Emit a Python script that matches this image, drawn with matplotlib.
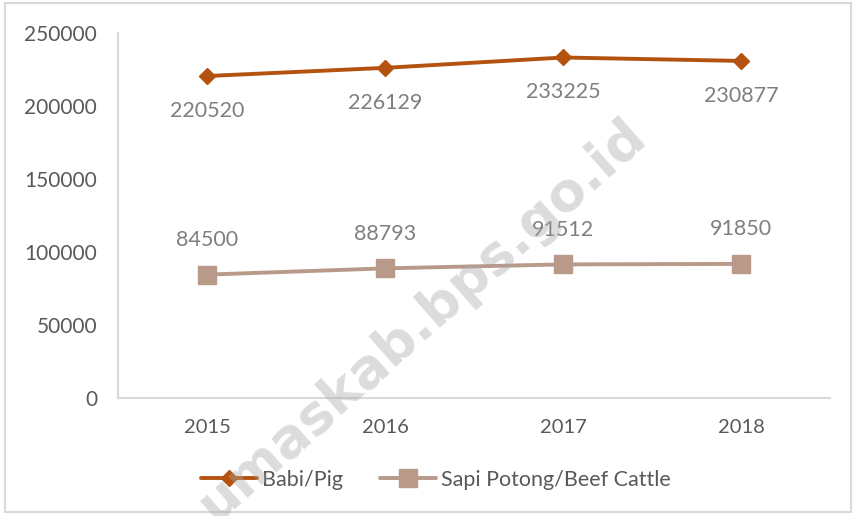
import matplotlib
matplotlib.use("Agg")
import matplotlib.pyplot as plt
from matplotlib.patches import Rectangle

# data
years = ["2015", "2016", "2017", "2018"]
pig = [220520, 226129, 233225, 230877]
cattle = [84500, 88793, 91512, 91850]
pig_label = "Babi/Pig"
cattle_label = "Sapi Potong/Beef Cattle"
y_ticks = [0, 50000, 100000, 150000, 200000, 250000]

PIG_COLOR = "#B4530F"
CATTLE_COLOR = "#B9998A"
TEXT_COLOR = "#595959"
LABEL_COLOR = "#7F7F7F"
AXIS_COLOR = "#D9D9D9"

plt.rcParams["font.family"] = ["Lato", "DejaVu Sans"]

fig = plt.figure(figsize=(8.56, 5.16), dpi=100)
ax = fig.add_axes([118 / 856, 1 - 398 / 516, (830 - 118) / 856, (398 - 33) / 516])

x = list(range(len(years)))
ax.plot(x, pig, color=PIG_COLOR, lw=2.8, marker="D", ms=8,
        solid_capstyle="round", label=pig_label, zorder=3)
ax.plot(x, cattle, color=CATTLE_COLOR, lw=2.8, marker="s", ms=13,
        solid_capstyle="round", label=cattle_label, zorder=3)

# data labels: pig below, cattle above
for xi, v in zip(x, pig):
    ax.annotate(str(v), (xi, v), xytext=(0, -25), textcoords="offset points",
                ha="center", va="center", fontsize=15.5, color=LABEL_COLOR)
for xi, v in zip(x, cattle):
    ax.annotate(str(v), (xi, v), xytext=(0, 25), textcoords="offset points",
                ha="center", va="center", fontsize=15.5, color=LABEL_COLOR)

ax.set_xlim(-0.5, 3.5)
ax.set_ylim(0, 250000)
ax.set_xticks(x)
ax.set_xticklabels(years)
ax.set_yticks(y_ticks)
ax.set_yticklabels([str(t) for t in y_ticks])
ax.tick_params(axis="y", length=0, labelsize=15, colors=TEXT_COLOR, pad=15)
ax.tick_params(axis="x", length=0, labelsize=14.5, colors=TEXT_COLOR, pad=15)

for side in ["top", "right"]:
    ax.spines[side].set_visible(False)
for side in ["left", "bottom"]:
    ax.spines[side].set_color(AXIS_COLOR)
    ax.spines[side].set_linewidth(1.5)

fig.legend(loc="center", bbox_to_anchor=(0.509, 0.07), ncol=2, frameon=False,
           fontsize=15.5, handlelength=2.6, handletextpad=0.25, columnspacing=1.7,
           labelcolor=TEXT_COLOR)

# watermark (cut off at the bottom edge, as in the source image)
fig.text(0.493, 0.38, "umaskab.bps.go.id", rotation=41.5, fontsize=39,
         fontweight="bold", family="DejaVu Sans", color="#A8A8A8", alpha=0.4,
         ha="center", va="center", rotation_mode="anchor", zorder=10)

# outer frame
fig.patches.append(Rectangle((5 / 856, 4 / 516), 846 / 856, 509 / 516,
                             transform=fig.transFigure, fill=False,
                             edgecolor=AXIS_COLOR, lw=1.5))

fig.savefig("out.png", dpi=100)
